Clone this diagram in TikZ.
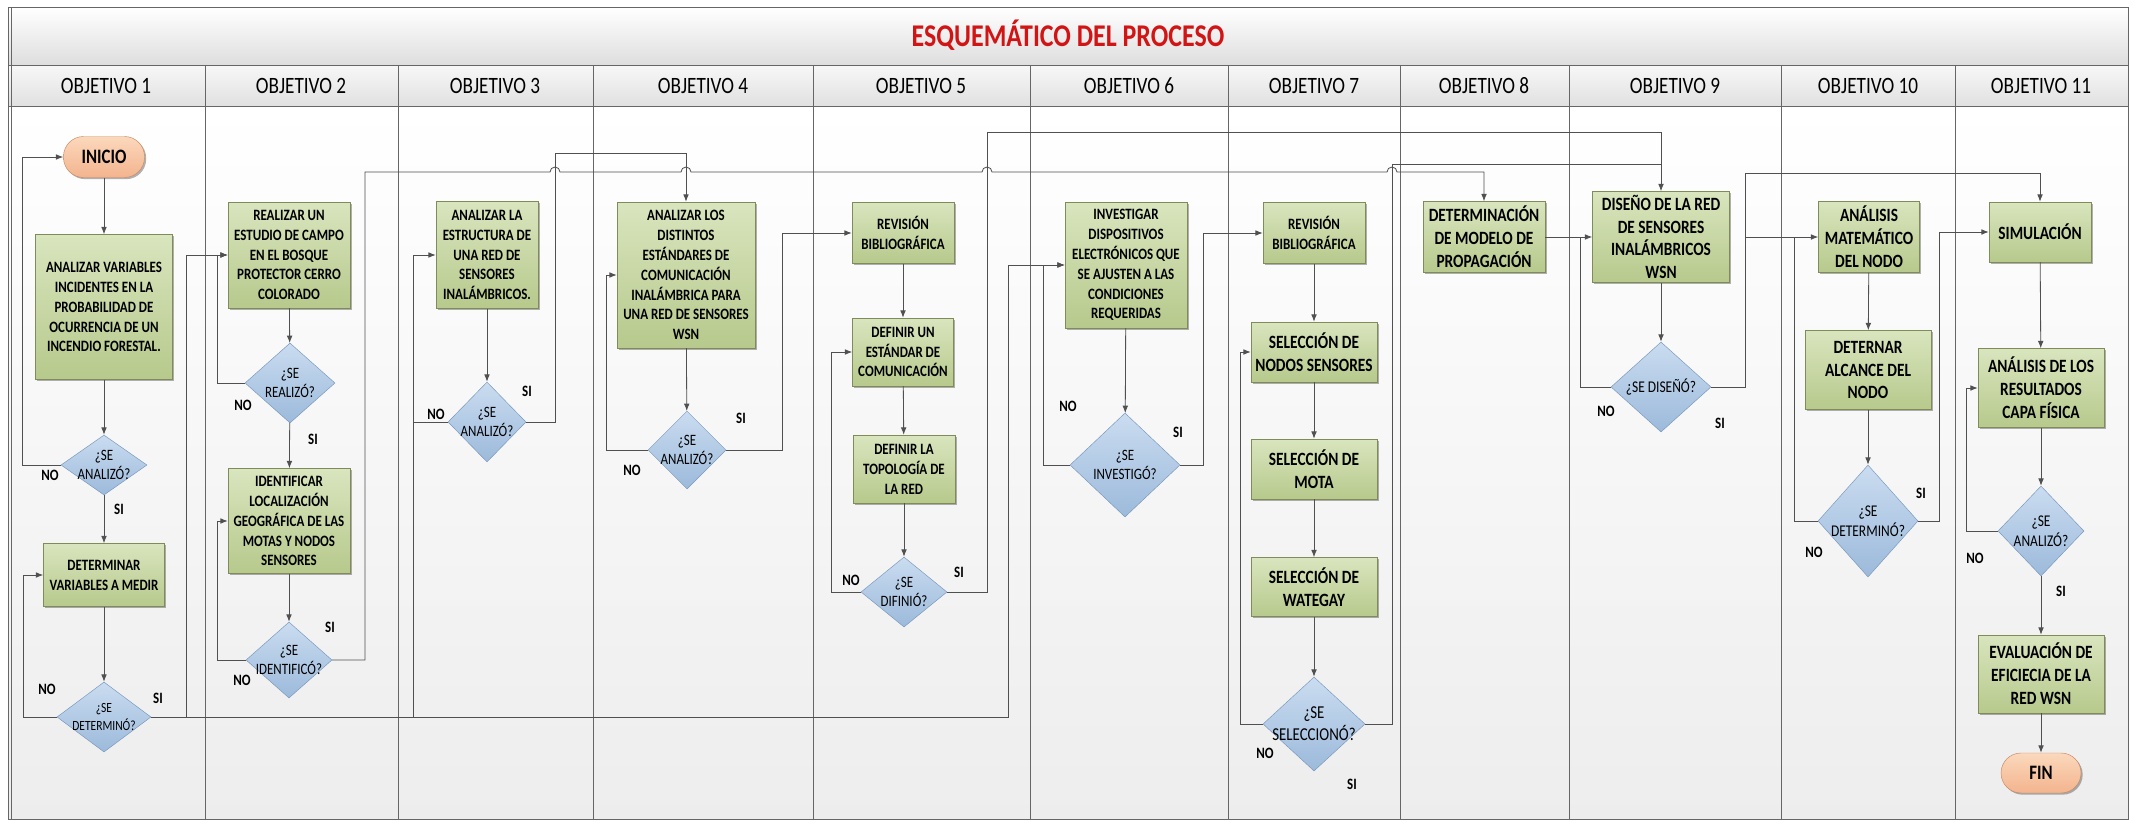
\documentclass[tikz,border=0pt]{standalone}
\usepackage{fontspec}
\setmainfont{Carlito}[FakeStretch=0.82]
\usetikzlibrary{shapes.geometric,arrows.meta,shadows}
\definecolor{boxtop}{HTML}{D9E5BE}
\definecolor{boxbot}{HTML}{B7C98C}
\definecolor{boxedge}{HTML}{7F8C5A}
\definecolor{dectop}{HTML}{CADCF0}
\definecolor{decbot}{HTML}{9CBADB}
\definecolor{decedge}{HTML}{7897BC}
\definecolor{termtop}{HTML}{FBD8BC}
\definecolor{termbot}{HTML}{F3B48E}
\definecolor{termedge}{HTML}{C88A62}
\definecolor{titlered}{HTML}{D21414}
\definecolor{linecol}{HTML}{505050}

\begin{document}
\begin{tikzpicture}[x=0.3mm,y=-0.3mm,
    frame/.style={draw=black!60, line width=0.8pt},
    head/.style={font=\fontsize{20}{24}\selectfont},
    box/.style={draw=boxedge, top color=boxtop, bottom color=boxbot, align=center, inner sep=1pt,
        font=\bfseries\fontsize{13.5}{17}\selectfont,
        drop shadow={shadow xshift=0.5mm, shadow yshift=-0.5mm, fill=black, opacity=0.3}},
    bigbox/.style={box, font=\bfseries\fontsize{16}{19.5}\selectfont},
    term/.style={rectangle, rounded corners=6mm, draw=termedge, top color=termtop, bottom color=termbot,
        font=\bfseries\fontsize{17.5}{20}\selectfont,
        drop shadow={shadow xshift=0.5mm, shadow yshift=-0.5mm, fill=black, opacity=0.3}},
    dec/.style={diamond, draw=decedge, top color=dectop, bottom color=decbot, inner sep=0pt},
    dtext/.style={align=center, font=\fontsize{13.5}{16}\selectfont},
    lab/.style={font=\bfseries\fontsize{13.5}{16}\selectfont},
    line/.style={draw=linecol, line width=0.7pt},
    conn/.style={line, -{Latex[length=2.2mm,width=1.7mm]}}]
\useasboundingbox (0,0) rectangle (2133,820);
\fill[top color=white, bottom color=black!7] (8,106) rectangle (2128,819);
\fill[top color=white, bottom color=black!13] (8,7) rectangle (2128,65);
\fill[top color=black!3, bottom color=black!12] (8,65) rectangle (2128,106);
\draw[frame] (8,7) rectangle (2128,819);
\draw[frame] (11,7) -- (11,819);
\draw[frame] (8,65) -- (2128,65);
\draw[frame] (8,106) -- (2128,106);
\draw[frame] (205,65) -- (205,819);
\draw[frame] (398,65) -- (398,819);
\draw[frame] (593,65) -- (593,819);
\draw[frame] (813,65) -- (813,819);
\draw[frame] (1030,65) -- (1030,819);
\draw[frame] (1228,65) -- (1228,819);
\draw[frame] (1400,65) -- (1400,819);
\draw[frame] (1569,65) -- (1569,819);
\draw[frame] (1781,65) -- (1781,819);
\draw[frame] (1955,65) -- (1955,819);

\node[text=titlered, font=\bfseries\fontsize{27}{30}\selectfont] (title) at (1068,35) {ESQUEMÁTICO DEL PROCESO};
\node[head] (h1) at (106,86) {OBJETIVO 1};
\node[head] (h2) at (301,86) {OBJETIVO 2};
\node[head] (h3) at (495,86) {OBJETIVO 3};
\node[head] (h4) at (703,86) {OBJETIVO 4};
\node[head] (h5) at (921,86) {OBJETIVO 5};
\node[head] (h6) at (1129,86) {OBJETIVO 6};
\node[head] (h7) at (1314,86) {OBJETIVO 7};
\node[head] (h8) at (1484,86) {OBJETIVO 8};
\node[head] (h9) at (1675,86) {OBJETIVO 9};
\node[head] (h10) at (1868,86) {OBJETIVO 10};
\node[head] (h11) at (2041,86) {OBJETIVO 11};

\node[term, minimum width=24.3mm, minimum height=12.3mm] (inicio) at (104,157) {INICIO};
\node[box, minimum width=41.1mm, minimum height=43.5mm] (anvar) at (104,307) {ANALIZAR VARIABLES\\INCIDENTES EN LA\\PROBABILIDAD DE\\OCURRENCIA DE UN\\INCENDIO FORESTAL.};
\node[dec, minimum width=25.8mm, minimum height=18mm] (d1a) at (104,465) {};
\node[dtext] (t1a) at (d1a) {¿SE\\ANALIZÓ?};
\node[box, minimum width=36.3mm, minimum height=18.9mm] (detvar) at (104,575) {DETERMINAR\\VARIABLES A MEDIR};
\node[dec, minimum width=28.2mm, minimum height=21mm] (d1b) at (104,717) {};
\node[dtext, font=\fontsize{12}{15}\selectfont] (t1b) at (d1b) {¿SE\\DETERMINÓ?};

\node[box, minimum width=36.6mm, minimum height=31.8mm] (realizar) at (289,255) {REALIZAR UN\\ESTUDIO DE CAMPO\\EN EL BOSQUE\\PROTECTOR CERRO\\COLORADO};
\node[dec, minimum width=27mm, minimum height=24mm] (d2a) at (290,383) {};
\node[dtext] (t2a) at (d2a) {¿SE\\REALIZÓ?};
\node[box, minimum width=36.6mm, minimum height=31.5mm] (identif) at (289,521) {IDENTIFICAR\\LOCALIZACIÓN\\GEOGRÁFICA DE LAS\\MOTAS Y NODOS\\SENSORES};
\node[dec, minimum width=25.8mm, minimum height=22.8mm] (d2b) at (289,660) {};
\node[dtext] (t2b) at (d2b) {¿SE\\IDENTIFICÓ?};

\node[box, minimum width=30.6mm, minimum height=32.1mm] (anestr) at (487,255) {ANALIZAR LA\\ESTRUCTURA DE\\UNA RED DE\\SENSORES\\INALÁMBRICOS.};
\node[dec, minimum width=23.4mm, minimum height=24mm] (d3) at (487,422) {};
\node[dtext] (t3) at (d3) {¿SE\\ANALIZÓ?};

\node[box, minimum width=41.4mm, minimum height=43.8mm] (anstd) at (686,275) {ANALIZAR LOS\\DISTINTOS\\ESTÁNDARES DE\\COMUNICACIÓN\\INALÁMBRICA PARA\\UNA RED DE SENSORES\\WSN};
\node[dec, minimum width=23.4mm, minimum height=23.4mm] (d4) at (687,450) {};
\node[dtext] (t4) at (d4) {¿SE\\ANALIZÓ?};

\node[box, minimum width=30.6mm, minimum height=18.3mm] (revbib5) at (903,233) {REVISIÓN\\BIBLIOGRÁFICA};
\node[box, minimum width=30.3mm, minimum height=20.4mm] (defstd) at (903,352) {DEFINIR UN\\ESTÁNDAR DE\\COMUNICACIÓN};
\node[box, minimum width=30.6mm, minimum height=20.4mm] (deftop) at (904,469) {DEFINIR LA\\TOPOLOGÍA DE\\LA RED};
\node[dec, minimum width=25.8mm, minimum height=21mm] (d5) at (904,592) {};
\node[dtext] (t5) at (d5) {¿SE\\DIFINIÓ?};

\node[box, minimum width=36.6mm, minimum height=37.8mm] (invest) at (1126,265) {INVESTIGAR\\DISPOSITIVOS\\ELECTRÓNICOS QUE\\SE AJUSTEN A LAS\\CONDICIONES\\REQUERIDAS};
\node[dec, minimum width=33mm, minimum height=31.2mm] (d6) at (1125,465) {};
\node[dtext] (t6) at (d6) {¿SE\\INVESTIGÓ?};

\node[box, minimum width=30.6mm, minimum height=18.3mm] (revbib7) at (1314,233) {REVISIÓN\\BIBLIOGRÁFICA};
\node[bigbox, minimum width=37.8mm, minimum height=18mm] (selnod) at (1314,352) {SELECCIÓN DE\\NODOS SENSORES};
\node[bigbox, minimum width=37.8mm, minimum height=18mm] (selmot) at (1314,469) {SELECCIÓN DE\\MOTA};
\node[bigbox, minimum width=37.8mm, minimum height=17.7mm] (selwat) at (1314,587) {SELECCIÓN DE\\WATEGAY};
\node[dec, minimum width=30.6mm, minimum height=28.2mm] (d7) at (1314,724) {};
\node[dtext, font=\fontsize{15.5}{19}\selectfont] (t7) at (d7) {¿SE\\SELECCIONÓ?};

\node[bigbox, minimum width=36.6mm, minimum height=21.3mm] (detmod) at (1484,237) {DETERMINACIÓN\\DE MODELO DE\\PROPAGACIÓN};

\node[bigbox, minimum width=41.1mm, minimum height=27.3mm] (disred) at (1661,237) {DISEÑO DE LA RED\\DE SENSORES\\INALÁMBRICOS\\WSN};
\node[dec, minimum width=30mm, minimum height=27mm] (d9) at (1661,387) {};
\node[dtext, font=\fontsize{14}{17}\selectfont] (t9) at (d9) {¿SE DISEÑÓ?};

\node[bigbox, minimum width=30.3mm, minimum height=21.3mm] (anmat) at (1869,237) {ANÁLISIS\\MATEMÁTICO\\DEL NODO};
\node[bigbox, minimum width=37.8mm, minimum height=23.7mm] (detalc) at (1868,370) {DETERNAR\\ALCANCE DEL\\NODO};
\node[dec, minimum width=30mm, minimum height=33.6mm] (d10) at (1868,521) {};
\node[dtext, font=\fontsize{14}{17}\selectfont] (t10) at (d10) {¿SE\\DETERMINÓ?};

\node[bigbox, minimum width=30.6mm, minimum height=18mm] (simul) at (2040,232) {SIMULACIÓN};
\node[bigbox, minimum width=37.8mm, minimum height=23.7mm] (anres) at (2041,388) {ANÁLISIS DE LOS\\RESULTADOS\\CAPA FÍSICA};
\node[dec, minimum width=25.8mm, minimum height=27mm] (d11) at (2041,531) {};
\node[dtext, font=\fontsize{14}{17}\selectfont] (t11) at (d11) {¿SE\\ANALIZÓ?};
\node[bigbox, minimum width=37.8mm, minimum height=23.4mm] (evalu) at (2041,674) {EVALUACIÓN DE\\EFICIECIA DE LA\\RED WSN};
\node[term, minimum width=24mm, minimum height=12mm] (fin) at (2041,773) {FIN};

\node[lab] (no1a) at (50,475) {NO};
\node[lab] (si1a) at (119,509) {SI};
\node[lab] (no1b) at (47,689) {NO};
\node[lab] (si1b) at (158,698) {SI};
\node[lab] (no2a) at (243,405) {NO};
\node[lab] (si2a) at (313,439) {SI};
\node[lab] (si2b) at (330,627) {SI};
\node[lab] (no2b) at (242,680) {NO};
\node[lab] (no3) at (436,414) {NO};
\node[lab] (si3) at (527,391) {SI};
\node[lab] (si4) at (741,418) {SI};
\node[lab] (no4) at (632,470) {NO};
\node[lab] (no5) at (851,580) {NO};
\node[lab] (si5) at (959,572) {SI};
\node[lab] (no6) at (1068,406) {NO};
\node[lab] (si6) at (1178,432) {SI};
\node[lab] (no7) at (1265,753) {NO};
\node[lab] (si7) at (1352,784) {SI};
\node[lab] (no9) at (1606,411) {NO};
\node[lab] (si9) at (1720,423) {SI};
\node[lab] (si10) at (1921,493) {SI};
\node[lab] (no10) at (1814,552) {NO};
\node[lab] (no11) at (1975,558) {NO};
\node[lab] (si11) at (2061,591) {SI};

\coordinate (j1) at (186,717);
\coordinate (j3) at (413,422);
\coordinate (j3b) at (413,717);
\coordinate (j7) at (1661,164);
\coordinate (j9) at (1580,237);
\coordinate (j10) at (1745,237);
\coordinate (j11) at (1794,237);

\draw[conn] (inicio) -- (anvar);
\draw[conn] (anvar) -- (d1a);
\draw[conn] (d1a.west) -- (22,465) |- (inicio.west);
\draw[conn] (d1a) -- (detvar);
\draw[conn] (detvar) -- (d1b);
\draw[conn] (d1b.west) -- (23,717) |- (detvar.west);
\draw[conn] (d1b.east) -- (1008,717) |- (invest.west);
\draw[conn] (j1) |- (realizar.west);

\draw[conn] (realizar) -- (d2a);
\draw[conn] (d2a.west) -- (217,383) |- (realizar.west);
\draw[conn] (d2a) -- (identif);
\draw[conn] (identif) -- (d2b);
\draw[conn] (d2b.west) -- (217,660) |- (identif.west);
\draw[conn] (d2b.east) -| (365,172) -- (550,172) arc[start angle=180, end angle=0, radius=1.5mm]
    -- (681,172) arc[start angle=180, end angle=0, radius=1.5mm]
    -- (982,172) arc[start angle=180, end angle=0, radius=1.5mm]
    -- (1387,172) arc[start angle=180, end angle=0, radius=1.5mm]
    -| (detmod.north);

\draw[conn] (anestr) -- (d3);
\draw[conn] (d3.west) -- (j3) |- (anestr.west);
\draw[line] (j3) -- (j3b);
\draw[conn] (d3.east) -| (555,153) -| (anstd.north);

\draw[conn] (anstd) -- (d4);
\draw[conn] (d4.west) -- (606,450) |- (anstd.west);
\draw[conn] (d4.east) -- (782,450) |- (revbib5.west);

\draw[conn] (revbib5) -- (defstd);
\draw[conn] (defstd) -- (deftop);
\draw[conn] (deftop) -- (d5);
\draw[conn] (d5.west) -- (831,592) |- (defstd.west);
\draw[conn] (d5.east) -| (987,132) -| (disred.north);

\draw[conn] (invest) -- (d6);
\draw[conn] (d6.west) -- (1043,465) |- (invest.west);
\draw[conn] (d6.east) -- (1203,465) |- (revbib7.west);

\draw[conn] (revbib7) -- (selnod);
\draw[conn] (selnod) -- (selmot);
\draw[conn] (selmot) -- (selwat);
\draw[conn] (selwat) -- (d7);
\draw[conn] (d7.west) -- (1240,724) |- (selnod.west);
\draw[line] (d7.east) -| (1392,164) -- (j7);

\draw[conn] (detmod) -- (disred);
\draw[conn] (disred) -- (d9);
\draw[line] (d9.west) -| (j9);
\draw[conn] (d9.east) -| (1745,173) -| (simul.north);
\draw[conn] (j10) -- (anmat.west);

\draw[conn] (anmat) -- (detalc);
\draw[conn] (detalc) -- (d10);
\draw[line] (d10.west) -| (j11);
\draw[conn] (d10.east) -- (1939,521) |- (simul.west);

\draw[conn] (simul) -- (anres);
\draw[conn] (anres) -- (d11);
\draw[conn] (d11.west) -- (1966,531) |- (anres.west);
\draw[conn] (d11) -- (evalu);
\draw[conn] (evalu) -- (fin);
\end{tikzpicture}
\end{document}
